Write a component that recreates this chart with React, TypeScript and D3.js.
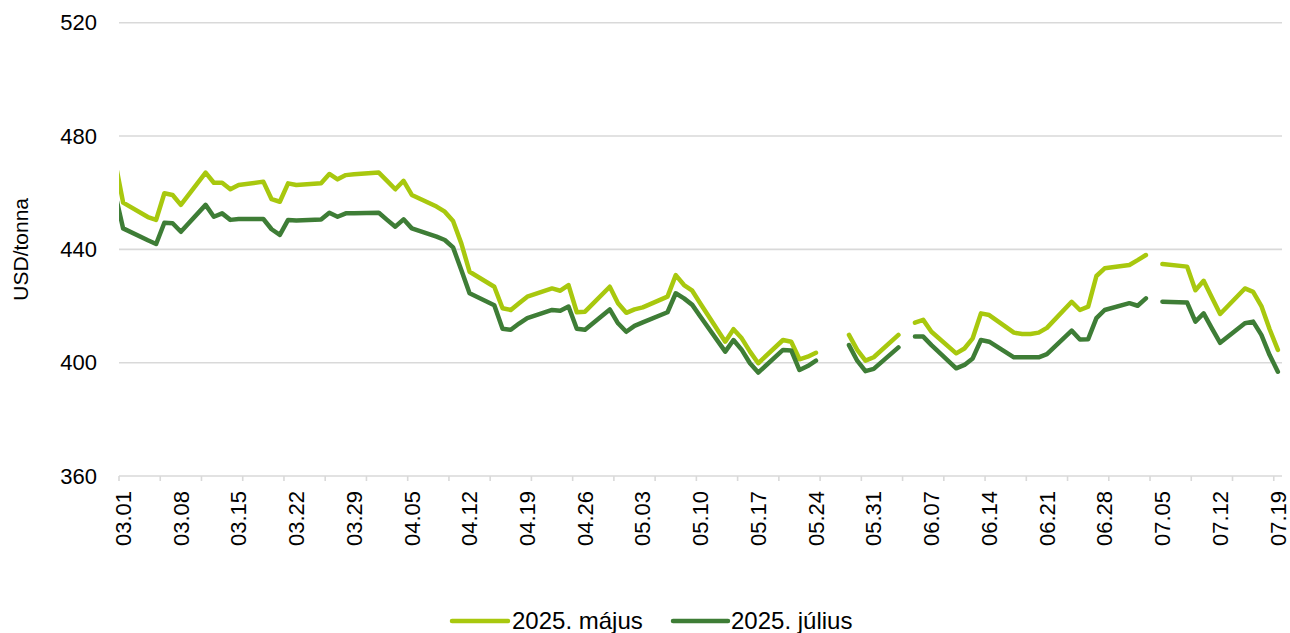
import React from 'react';
import * as d3 from 'd3';

// Publication dates (Tue–Sat), null = no quote (line gap)
const dates: string[] = [
  '2025-02-28', '2025-03-01',
  '2025-03-04', '2025-03-05', '2025-03-06', '2025-03-07', '2025-03-08',
  '2025-03-11', '2025-03-12', '2025-03-13', '2025-03-14', '2025-03-15',
  '2025-03-18', '2025-03-19', '2025-03-20', '2025-03-21', '2025-03-22',
  '2025-03-25', '2025-03-26', '2025-03-27', '2025-03-28', '2025-03-29',
  '2025-04-01', '2025-04-02', '2025-04-03', '2025-04-04', '2025-04-05',
  '2025-04-08', '2025-04-09', '2025-04-10', '2025-04-11', '2025-04-12',
  '2025-04-15', '2025-04-16', '2025-04-17', '2025-04-18', '2025-04-19',
  '2025-04-22', '2025-04-23', '2025-04-24', '2025-04-25', '2025-04-26',
  '2025-04-29', '2025-04-30', '2025-05-01', '2025-05-02', '2025-05-03',
  '2025-05-06', '2025-05-07', '2025-05-08', '2025-05-09', '2025-05-10',
  '2025-05-13', '2025-05-14', '2025-05-15', '2025-05-16', '2025-05-17',
  '2025-05-20', '2025-05-21', '2025-05-22', '2025-05-23', '2025-05-24',
  '2025-05-27', '2025-05-28', '2025-05-29', '2025-05-30', '2025-05-31',
  '2025-06-03', '2025-06-04', '2025-06-05', '2025-06-06', '2025-06-07',
  '2025-06-10', '2025-06-11', '2025-06-12', '2025-06-13', '2025-06-14',
  '2025-06-17', '2025-06-18', '2025-06-19', '2025-06-20', '2025-06-21',
  '2025-06-24', '2025-06-25', '2025-06-26', '2025-06-27', '2025-06-28',
  '2025-07-01', '2025-07-02', '2025-07-03', '2025-07-04', '2025-07-05',
  '2025-07-08', '2025-07-09', '2025-07-10', '2025-07-11', '2025-07-12',
  '2025-07-15', '2025-07-16', '2025-07-17', '2025-07-18', '2025-07-19',
];

const majus: (number | null)[] = [
  471.5, 456.5,
  451.4, 450.4, 459.8, 459.2, 455.7,
  467.1, 463.5, 463.5, 461.2, 462.7,
  463.9, 457.7, 456.8, 463.3, 462.7,
  463.3, 466.6, 464.7, 466.2, 466.5,
  467.1, 464.2, 461.2, 464.2, 459.2,
  455.1, 453.3, 450.0, 442.1, 432.1,
  426.8, 419.2, 418.6, 421.0, 423.3,
  426.2, 425.4, 427.4, 417.8, 418.0,
  426.8, 421.0, 417.6, 418.8, 419.5,
  423.3, 430.9, 427.4, 425.4, 420.8,
  407.4, 411.8, 408.6, 403.9, 399.8,
  408.0, 407.4, 401.2, 402.1, 403.5,
  null, 409.8, 404.5, 400.7, 401.9,
  409.8, null, 414.1, 415.1, 410.9,
  403.3, 405.0, 408.6, 417.4, 416.8,
  410.6, 410.1, 410.1, 410.6, 412.3,
  421.5, 418.6, 419.8, 430.6, 433.3,
  434.5, 436.2, 438.0, null, 434.8,
  433.9, 425.6, 428.9, 423.0, 417.2,
  426.2, 425.0, 420.0, 411.8, 404.5,
];

const julius: (number | null)[] = [
  460.1, 447.4,
  443.2, 441.9, 449.4, 449.2, 446.2,
  455.7, 451.5, 452.7, 450.4, 450.7,
  450.7, 447.1, 445.1, 450.4, 450.2,
  450.5, 452.9, 451.5, 452.7, 452.7,
  452.9, 450.4, 448.0, 450.6, 447.4,
  444.5, 443.3, 440.7, 432.7, 424.5,
  420.3, 412.0, 411.6, 413.8, 415.7,
  418.6, 418.3, 419.8, 412.0, 411.6,
  418.8, 413.9, 410.9, 413.0, 414.2,
  417.8, 424.5, 422.7, 420.4, 416.2,
  403.9, 408.0, 404.5, 399.8, 396.5,
  404.5, 404.3, 397.4, 398.8, 400.7,
  null, 406.2, 400.7, 397.0, 397.8,
  405.4, null, 409.2, 409.2, 406.2,
  398.0, 399.2, 401.5, 408.0, 407.4,
  401.9, 401.9, 401.9, 401.9, 403.0,
  411.3, 408.2, 408.3, 415.7, 418.6,
  421.0, 420.1, 422.7, null, 421.5,
  421.2, 414.5, 417.4, 412.1, 407.0,
  413.9, 414.5, 409.8, 402.7, 396.8,
];

const xLabels: string[] = [
  '03.01', '03.08', '03.15', '03.22', '03.29', '04.05', '04.12', '04.19', '04.26', '05.03', '05.10',
  '05.17', '05.24', '05.31', '06.07', '06.14', '06.21', '06.28', '07.05', '07.12', '07.19',
];
const yTicks: number[] = [360, 400, 440, 480, 520];
const seriesNames: string[] = ['2025. május', '2025. július'];
const seriesColors: string[] = ['#a8c80e', '#3e7d36'];
const yTitle = 'USD/tonna';

const DAY = 864e5;
const FONT = "'Liberation Sans', Arial, sans-serif";

export default function App() {
  const W = 1290, H = 633;
  const left = 119, right = 1282, top = 22.7, bottom = 476;
  const parse = d3.utcParse('%Y-%m-%d');
  const start = Date.UTC(2025, 1, 28, 12);
  const end = Date.UTC(2025, 6, 19, 12);
  const x = d3.scaleUtc().domain([new Date(start), new Date(end)]).range([left, right]);
  const y = d3.scaleLinear().domain([360, 520]).range([bottom, top]);

  const nDays = Math.round((end - start) / DAY);
  const tickDates = d3.range(0, nDays + 1, 5).map((k) => new Date(start + k * DAY));
  const labelDates = xLabels.map((l) => parse('2025-' + l.replace('.', '-')) as Date);

  const parsed = dates.map((d) => parse(d) as Date);
  const series = [majus, julius].map((vals) => vals.map((v, i) => ({ d: parsed[i], v })));
  const line = d3
    .line<{ d: Date; v: number | null }>()
    .defined((p) => p.v !== null)
    .x((p) => x(p.d))
    .y((p) => y(p.v as number));

  const legendItems = [
    { x0: 452, x1: 508, tx: 512 },
    { x0: 673, x1: 728, tx: 731 },
  ];
  const legendY = 621;

  return (
    <svg width={W} height={H} style={{ position: 'absolute', left: 0, top: 0, display: 'block', background: '#fff' }} fontFamily={FONT}>
      <defs>
        <clipPath id="plotclip">
          <rect x={left} y={0} width={right - left} height={H} />
        </clipPath>
      </defs>
      {yTicks.map((t) => (
        <g key={t}>
          <line x1={left} x2={right} y1={y(t)} y2={y(t)} stroke="#d9d9d9" strokeWidth={1.6} />
          <text x={97} y={y(t)} dy="0.35em" textAnchor="end" fontSize={22} fill="#000">
            {t}
          </text>
        </g>
      ))}
      {tickDates.map((d, i) => (
        <line key={i} x1={x(d)} x2={x(d)} y1={bottom} y2={bottom + 5} stroke="#d9d9d9" strokeWidth={1.6} />
      ))}
      {labelDates.map((d, i) => (
        <text
          key={i}
          transform={`translate(${x(d)},${bottom + 15}) rotate(-90)`}
          dy="0.35em"
          textAnchor="end"
          fontSize={22}
          fill="#000"
        >
          {xLabels[i]}
        </text>
      ))}
      <text transform={`translate(21,${(top + bottom) / 2}) rotate(-90)`} dy="0.35em" textAnchor="middle" fontSize={21} fill="#000">
        {yTitle}
      </text>
      <g clipPath="url(#plotclip)">
        {series.map((s, i) => (
          <path
            key={i}
            d={line(s) || ''}
            fill="none"
            stroke={seriesColors[i]}
            strokeWidth={4.5}
            strokeLinejoin="round"
            strokeLinecap="round"
          />
        ))}
      </g>
      {legendItems.map((it, i) => (
        <g key={i}>
          <line x1={it.x0} x2={it.x1} y1={legendY} y2={legendY} stroke={seriesColors[i]} strokeWidth={4.5} strokeLinecap="round" />
          <text x={it.tx} y={legendY} dy="0.35em" fontSize={24} fill="#000">
            {seriesNames[i]}
          </text>
        </g>
      ))}
    </svg>
  );
}
